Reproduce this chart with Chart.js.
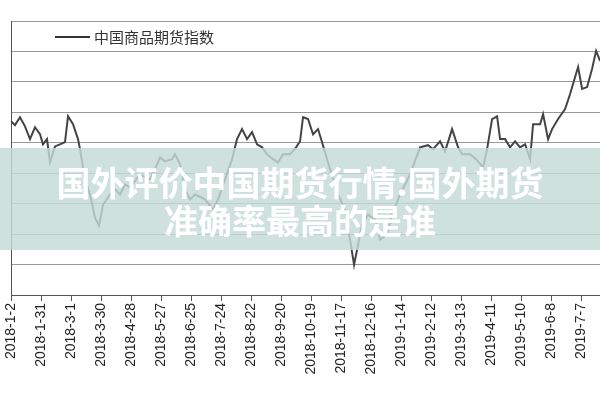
<!DOCTYPE html>
<html><head><meta charset="utf-8">
<script src="https://cdn.jsdelivr.net/npm/chart.js@4"></script>
<style>html,body{margin:0;padding:0;background:#fff}#w{width:600px;height:400px}</style>
</head><body><div id="w"><canvas id="c"></canvas></div>
<script>
const tickLabels=["2018-1-2","2018-1-31","2018-3-1","2018-3-30","2018-4-28","2018-5-27","2018-6-25","2018-7-24","2018-8-22","2018-9-20","2018-10-19","2018-11-17","2018-12-16","2019-1-14","2019-2-12","2019-3-13","2019-4-11","2019-5-10","2019-6-8","2019-7-7"];
const seriesName="中国商品期货指数";
const pixX=[11,15,20,25,30,35,40,43,47,50,55,60,65,68,73,78,80,85,90,95,99,103,110,115,120,125,130,140,150,155,160,165,172,175,180,185,190,195,205,213,218,225,232,237,242,247,252,257,262,267,273,278,283,290,296,300,303,308,313,318,322,330,338,345,350,354,358,362,368,375,380,387,392,400,410,420,428,433,440,445,452,458,462,470,476,483,487,492,497,500,505,510,515,520,525,530,533,540,543,548,552,558,565,570,575,578,582,587,592,596,600];
const pixY=[122,126,118,127,140,128,135,145,140,163,147,145,143,117,125,140,150,180,195,218,226,205,195,190,195,185,188,175,180,170,158,162,160,155,165,190,200,195,200,210,200,180,160,140,130,140,133,145,148,155,160,163,155,155,148,142,118,120,135,130,143,170,195,210,240,265,245,225,215,220,240,235,215,195,175,148,146,150,142,152,130,148,155,155,160,168,150,120,117,140,140,148,142,148,145,160,125,125,115,140,130,120,110,95,78,68,90,88,70,52,62];
const positions=pixX.map(x=>(x-11)/30);
const values=pixY.map(y=>+((295-y)/30.3).toFixed(2));
const overlay=["国外评价中国期货行情:国外期货","准确率最高的是谁"];
const deco={id:'deco',afterDraw(ch){const c=ch.ctx;c.save();
c.strokeStyle='#333';c.lineWidth=2;c.beginPath();c.moveTo(55,37);c.lineTo(90,37);c.stroke();
c.fillStyle='#333';c.font='15px "Noto Sans CJK SC"';c.textBaseline='middle';c.fillText(seriesName,94,37);
c.fillStyle='rgba(196,218,214,0.82)';c.fillRect(0,148,600,102);
c.fillStyle='#fff';c.font='bold 34px "Noto Sans CJK SC"';c.textAlign='center';c.textBaseline='middle';
c.fillText(overlay[0],300,183);c.fillText(overlay[1],300,221);c.restore();}};
new Chart(document.getElementById('c'),{type:'line',
data:{datasets:[{label:seriesName,data:positions.map((p,i)=>({x:p,y:values[i]})),borderColor:'#444',borderWidth:2,pointRadius:0,tension:0}]},
options:{animation:false,responsive:true,maintainAspectRatio:false,
layout:{padding:{left:11,top:21,right:0,bottom:0}},
plugins:{legend:{display:false},tooltip:{enabled:false}},
scales:{x:{type:'linear',min:0,max:19.63,afterBuildTicks(a){a.ticks=tickLabels.map((_,i)=>({value:i}));},afterFit(a){a.height=105;},
ticks:{autoSkip:false,maxRotation:90,minRotation:90,padding:2,color:'#222',font:{size:14,family:'Liberation Sans'},callback:v=>tickLabels[v]},
grid:{display:true,drawOnChartArea:false,drawTicks:true,tickLength:6,color:'#555'},border:{color:'#555'}},
y:{min:0,max:9,afterBuildTicks(a){a.ticks=[0,1,2,3,4,5,6,7,8,9].map(v=>({value:v}));},afterFit(a){a.width=0;},ticks:{display:false},
grid:{color:'#999',drawTicks:false},border:{color:'#555'}}}},
plugins:[deco]});
</script></body></html>
